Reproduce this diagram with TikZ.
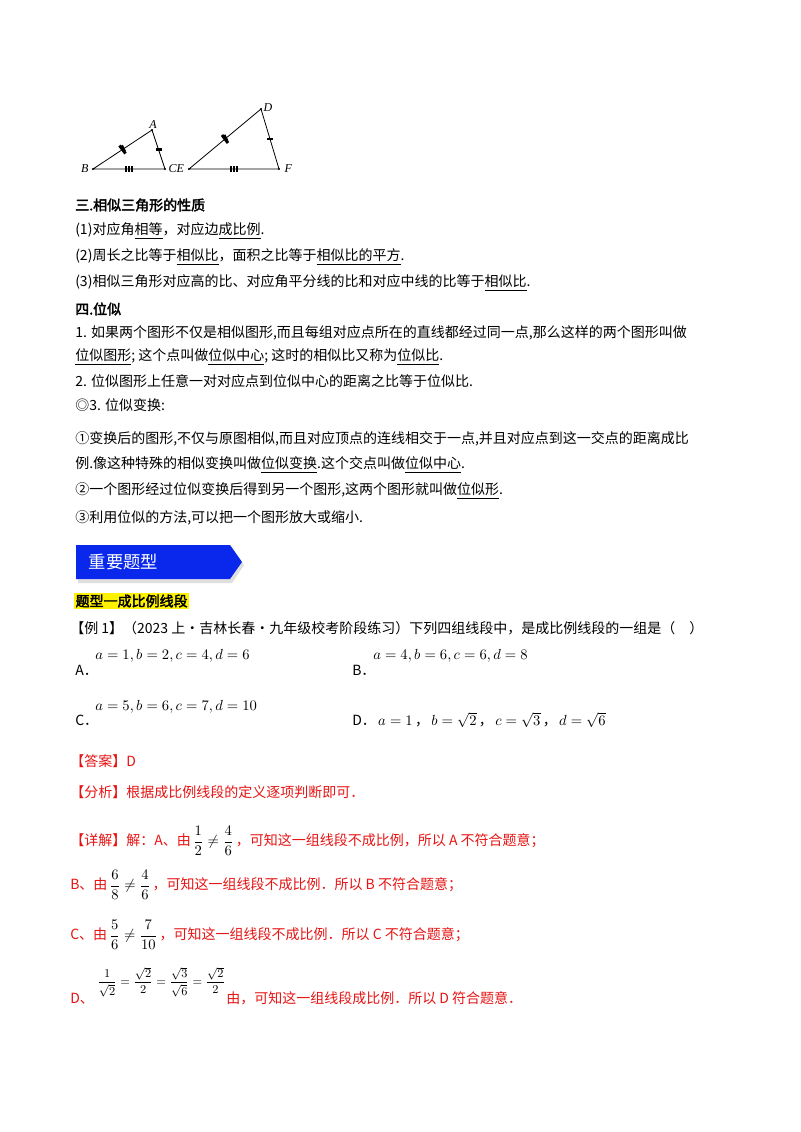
\documentclass[tikz,border=0pt]{standalone}
\usepackage{amsmath}
\usepackage{fontspec}
\usetikzlibrary{calc}
\setmainfont{Noto Sans CJK SC}[AutoFakeBold=2.5]
\newfontfamily\serifit{Liberation Serif}
\definecolor{ansred}{RGB}{230,20,20}
\definecolor{banblue}{RGB}{10,40,235}
\begin{document}
\begin{tikzpicture}[x=0.75pt,y=-0.75pt,
  txt/.style={anchor=west,inner sep=0pt,font=\fontsize{10.5pt}{12pt}\selectfont},
  rtxt/.style={txt,text=ansred},
  lbl/.style={inner sep=1pt,font=\serifit\itshape\small},
  tick/.style={line width=2.2pt}]
\useasboundingbox[fill=white] (0,0) rectangle (800,1132);
% triangles
\coordinate (B) at (93,169); \coordinate (A) at (152,130); \coordinate (C) at (165,169);
\coordinate (E) at (189,169); \coordinate (D) at (261,109); \coordinate (F) at (279,169);
\draw[line width=0.6pt] (B)--(A)--(C)--cycle (E)--(D)--(F)--cycle;
\foreach \p in {A,B,C,D,E,F} \fill (\p) circle (0.9pt);
\node[lbl] (lA) at (153,125) {A};
\node[lbl,anchor=east] (lB) at (90,169) {B};
\node[lbl,anchor=west] (lC) at (167,169) {CE};
\node[lbl] (lD) at (268,108) {D};
\node[lbl,anchor=west] (lF) at (283,169) {F};
\draw[tick] ($(B)!0.5!(A)+(-3,-4)$)--($(B)!0.5!(A)+(3,4)$);
\draw[tick] ($(B)!0.5!(A)+(-1,-4)$)--($(B)!0.5!(A)+(2,2)$);
\draw[tick] ($(A)!0.5!(C)+(-3,0)$)--($(A)!0.5!(C)+(3,0)$);
\foreach \d in {-3,0,3} \draw[tick] ($(B)!0.5!(C)+(\d,-3)$)--($(B)!0.5!(C)+(\d,3)$);
\draw[tick] ($(E)!0.5!(D)+(-3,-4)$)--($(E)!0.5!(D)+(3,4)$);
\draw[tick] ($(E)!0.5!(D)+(-1,-4)$)--($(E)!0.5!(D)+(2,2)$);
\draw[tick] ($(D)!0.5!(F)+(-3,0)$)--($(D)!0.5!(F)+(3,0)$);
\foreach \d in {-3,0,3} \draw[tick] ($(E)!0.5!(F)+(\d,-3)$)--($(E)!0.5!(F)+(\d,3)$);
% section 3
\node[txt,font=\bfseries\fontsize{10.5pt}{12pt}\selectfont] (s3) at (75,205) {三.相似三角形的性质};
\node[txt] (p1) at (75,231) {(1)对应角\underline{相等}，对应边\underline{成比例}.};
\node[txt] (p2) at (75,257) {(2)周长之比等于\underline{相似比}，面积之比等于\underline{相似比的平方}.};
\node[txt] (p3) at (75,283) {(3)相似三角形对应高的比、对应角平分线的比和对应中线的比等于\underline{相似比}.};
\node[txt,font=\bfseries\fontsize{10.5pt}{12pt}\selectfont] (s4) at (75,309) {四.位似};
\node[txt] (q1) at (75,333) {1. 如果两个图形不仅是相似图形,而且每组对应点所在的直线都经过同一点,那么这样的两个图形叫做};
\node[txt] (q1b) at (75,357) {\underline{位似图形}; 这个点叫做\underline{位似中心}; 这时的相似比又称为\underline{位似比}.};
\node[txt] (q2) at (75,381) {2. 位似图形上任意一对对应点到位似中心的距离之比等于位似比.};
\node[txt] (q3) at (75,405) {◎3. 位似变换:};
\node[txt] (r1) at (75,439) {①变换后的图形,不仅与原图相似,而且对应顶点的连线相交于一点,并且对应点到这一交点的距离成比};
\node[txt] (r1b) at (75,465) {例.像这种特殊的相似变换叫做\underline{位似变换}.这个交点叫做\underline{位似中心}.};
\node[txt] (r2) at (75,491) {②一个图形经过位似变换后得到另一个图形,这两个图形就叫做\underline{位似形}.};
\node[txt] (r3) at (75,518) {③利用位似的方法,可以把一个图形放大或缩小.};
% banner
\fill[gray!25] (78,547) -- (232,547) -- (244,565) -- (232,583) -- (78,583) -- cycle;
\fill[banblue] (76,545) -- (230,545) -- (242,562) -- (230,579) -- (76,579) -- cycle;
\node[anchor=west,text=white,font=\fontsize{13pt}{14pt}\selectfont] (ban) at (84,562) {重要题型};
% title
\node[txt,fill=yellow,inner sep=1pt,font=\bfseries\fontsize{10.5pt}{12pt}\selectfont] (tt) at (74,601) {题型一成比例线段};
\node[txt] (ex) at (70,628) {【例 1】（2023 上·吉林长春·九年级校考阶段练习）下列四组线段中，是成比例线段的一组是（\quad）};
\node[txt] (oa) at (75,670) {A．};
\node[txt] (oam) at (95,656) {$a=1,b=2,c=4,d=6$};
\node[txt] (ob) at (352,670) {B．};
\node[txt] (obm) at (373,656) {$a=4,b=6,c=6,d=8$};
\node[txt] (oc) at (75,720) {C．};
\node[txt] (ocm) at (95,707) {$a=5,b=6,c=7,d=10$};
\node[txt] (od) at (352,720) {D．\,$a=1$\,，\,$b=\sqrt2$\,，\,$c=\sqrt3$\,，\,$d=\sqrt6$};
% answers
\node[rtxt] (an) at (70,761) {【答案】D};
\node[rtxt] (fx) at (70,792) {【分析】根据成比例线段的定义逐项判断即可．};
\node[rtxt] (xj) at (70,841) {【详解】解：A、由\,{\color{black}$\dfrac12\neq\dfrac46$}\,，可知这一组线段不成比例，所以 A 不符合题意；};
\node[rtxt] (lb) at (70,885) {B、由\,{\color{black}$\dfrac68\neq\dfrac46$}\,，可知这一组线段不成比例．所以 B 不符合题意；};
\node[rtxt] (lc) at (70,935) {C、由\,{\color{black}$\dfrac56\neq\dfrac7{10}$}\,，可知这一组线段不成比例．所以 C 不符合题意；};
\node[anchor=west,inner sep=0pt,font=\small] (ld) at (97,982) {$\dfrac1{\sqrt2}=\dfrac{\sqrt2}2=\dfrac{\sqrt3}{\sqrt6}=\dfrac{\sqrt2}2$};
\node[rtxt] (ldt) at (70,999) {D、};
\node[rtxt] (ldt2) at (226,998) {由，可知这一组线段成比例．所以 D 符合题意．};
\end{tikzpicture}
\end{document}
